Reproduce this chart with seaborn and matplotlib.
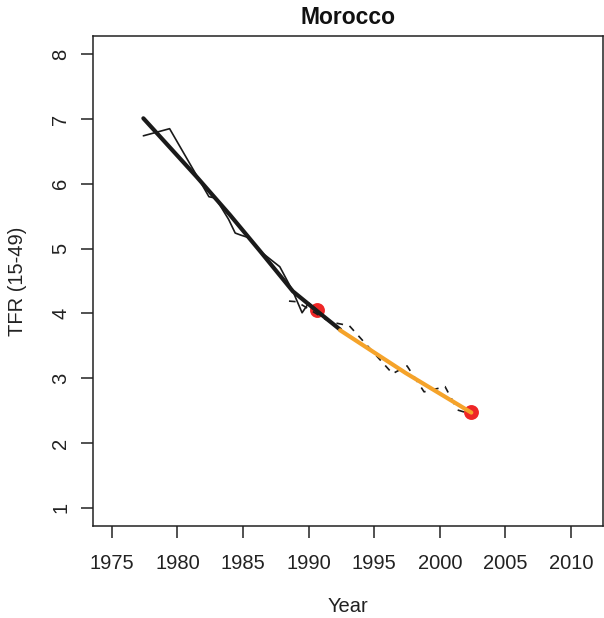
import matplotlib
matplotlib.use("Agg")
import matplotlib.pyplot as plt
import seaborn as sns
import pandas as pd

# ---- data ----
title = "Morocco"
x_label = "Year"
y_label = "TFR (15-49)"
x_ticks = [1975, 1980, 1985, 1990, 1995, 2000, 2005, 2010]
y_ticks = [1, 2, 3, 4, 5, 6, 7, 8]

# thin solid observed series
obs1_years = [1977.4, 1979.4, 1982.4, 1982.9, 1983.9, 1984.4, 1984.8, 1985.4,
              1986.3, 1987.8, 1988.8, 1989.5, 1990.0, 1990.6]
obs1_tfr = [6.74, 6.85, 5.80, 5.78, 5.45, 5.24, 5.21, 5.17,
            4.96, 4.72, 4.34, 4.01, 4.16, 4.06]

# thin dashed observed series
obs2_years = [1988.5, 1989.1, 1991.6, 1993.1, 1996.4, 1997.5, 1998.8, 2000.4, 2001.35, 2002.0]
obs2_tfr = [4.19, 4.18, 3.87, 3.81, 3.07, 3.19, 2.79, 2.87, 2.51, 2.47]

# thick black estimate
est_years = [1977.4, 1981.45, 1984.0, 1986.3, 1988.8, 1990.8, 1992.4]
est_tfr = [7.01, 6.11, 5.52, 4.96, 4.34, 4.01, 3.75]

# orange continuation
proj_years = [1992.4, 1997.4, 2002.4]
proj_tfr = [3.74, 3.08, 2.47]

# red points
pt_years = [1990.6, 2002.4]
pt_tfr = [4.06, 2.48]

# ---- style ----
sns.set_theme(style="white")
plt.rcParams["font.family"] = ["Liberation Sans", "DejaVu Sans"]
plt.rcParams["axes.edgecolor"] = "#222222"
plt.rcParams["axes.linewidth"] = 1.1

fig = plt.figure(figsize=(6.04, 6.18), dpi=100)
ax = fig.add_axes([93 / 604, 1 - 526 / 618, (603 - 93) / 604, (526 - 36) / 618])

obs1 = pd.DataFrame({"year": obs1_years, "tfr": obs1_tfr})
obs2 = pd.DataFrame({"year": obs2_years, "tfr": obs2_tfr})
est = pd.DataFrame({"year": est_years, "tfr": est_tfr})
proj = pd.DataFrame({"year": proj_years, "tfr": proj_tfr})
pts = pd.DataFrame({"year": pt_years, "tfr": pt_tfr})

sns.scatterplot(data=pts, x="year", y="tfr", ax=ax, color="#EE2626", s=115,
                linewidth=0, zorder=2)
sns.lineplot(data=obs1, x="year", y="tfr", ax=ax, color="#1a1a1a", lw=1.2,
             sort=False, estimator=None, zorder=3)
sns.lineplot(data=obs2, x="year", y="tfr", ax=ax, color="#1a1a1a", lw=1.2,
             sort=False, estimator=None, zorder=3)
ax.lines[-1].set_dashes((4, 4))
sns.lineplot(data=est, x="year", y="tfr", ax=ax, color="#1a1a1a", lw=3.0,
             sort=False, estimator=None, zorder=4)
sns.lineplot(data=proj, x="year", y="tfr", ax=ax, color="#F5A32A", lw=3.0,
             sort=False, estimator=None, zorder=5)

ax.set_xlim(1973.56, 2012.44)
ax.set_ylim(0.72, 8.28)
ax.set_xticks(x_ticks)
ax.set_yticks(y_ticks)
ax.set_xticklabels([str(v) for v in x_ticks])
ax.set_yticklabels([str(v) for v in y_ticks], rotation=90, va="center")
ax.tick_params(axis="both", direction="out", length=8.5, width=1.1,
               color="#222222", labelsize=14.5, labelcolor="#222222",
               bottom=True, left=True)
ax.tick_params(axis="x", pad=12)
ax.tick_params(axis="y", pad=8)
for s in ax.spines.values():
    s.set_visible(True)

ax.set_xlabel(x_label, fontsize=14.5, color="#222222", labelpad=17)
ax.set_ylabel(y_label, fontsize=14.5, color="#222222", labelpad=17)
ax.set_title(title, fontsize=16.5, fontweight="bold", color="#111111", pad=9)
ax.grid(False)

fig.savefig("out.png", dpi=100)
